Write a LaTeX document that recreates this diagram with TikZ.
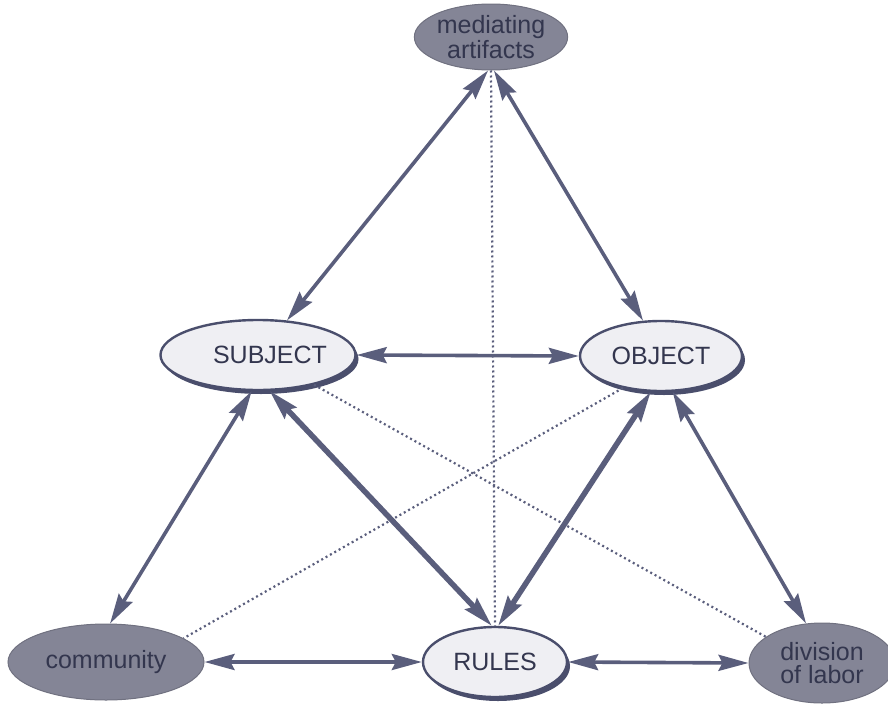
\documentclass[tikz,border=0pt]{standalone}
\usepackage{fontspec}
\setmainfont{Liberation Sans}
\usetikzlibrary{shapes.geometric,arrows.meta,shadows}

\definecolor{linec}{HTML}{5A5E7C}
\definecolor{darkfill}{HTML}{848596}
\definecolor{lightfill}{HTML}{EFEFF3}
\definecolor{outlinec}{HTML}{4A4E6C}
\definecolor{textc}{HTML}{33364E}

\tikzset{
  tip/.tip={Stealth[length=30pt,width=16pt,inset=4pt]},
  lightnode/.style={ellipse, inner sep=0pt, draw=outlinec, line width=2.4pt,
    fill=lightfill, text=textc, align=center,
    font=\fontsize{25}{23}\selectfont,
    drop shadow={shadow xshift=3pt, shadow yshift=-4pt, fill=outlinec, opacity=1}},
  darknode/.style={ellipse, inner sep=0pt, draw=darkfill!85!black, line width=1pt,
    fill=darkfill, text=textc, align=center,
    font=\fontsize{25}{23}\selectfont},
  link/.style={draw=linec, line width=3.6pt, tip-tip},
  boldlink/.style={link, line width=5.5pt},
  dotlink/.style={draw=linec, line width=2.2pt, dash pattern=on 2pt off 3pt}
}

\begin{document}
\begin{tikzpicture}[x=1pt,y=-1pt]
  \useasboundingbox (0,0) rectangle (888,704);

  % nodes
  \node[darknode, minimum width=152pt, minimum height=66pt] (med) at (491,37) {mediating\\artifacts};
  \node[lightnode, minimum width=162pt, minimum height=70pt] (subj) at (258,355) {\hspace*{24pt}SUBJECT};
  \node[lightnode, minimum width=162pt, minimum height=70pt] (obj) at (661,356) {OBJECT};
  \node[darknode, minimum width=196pt, minimum height=76pt] (comm) at (106,662) {community};
  \node[lightnode, minimum width=144pt, minimum height=70pt] (rules) at (495,662) {RULES};
  \node[darknode, minimum width=146pt, minimum height=80pt] (div) at (822,663) {division\\of labor};

  % dotted relations
  \draw[dotlink] (med.south) -- (rules.north);
  \draw[dotlink] (subj.-28) -- (div.155);
  \draw[dotlink] (obj.-140) -- (comm.17);

  % double-headed relations
  \draw[link] (med.-95) -- (subj.50);
  \draw[link] (med.-85) -- (obj.117);
  \draw[link] (subj.east) -- (obj.west);
  \draw[link] (subj.-100) -- (comm.84);
  \draw[boldlink] (subj.-72) -- (rules.95);
  \draw[boldlink] (obj.-106) -- (rules.85);
  \draw[link] (obj.-72) -- (div.112);
  \draw[link] (comm.east) -- (rules.west);
  \draw[link] (rules.east) -- (div.west);
\end{tikzpicture}
\end{document}
